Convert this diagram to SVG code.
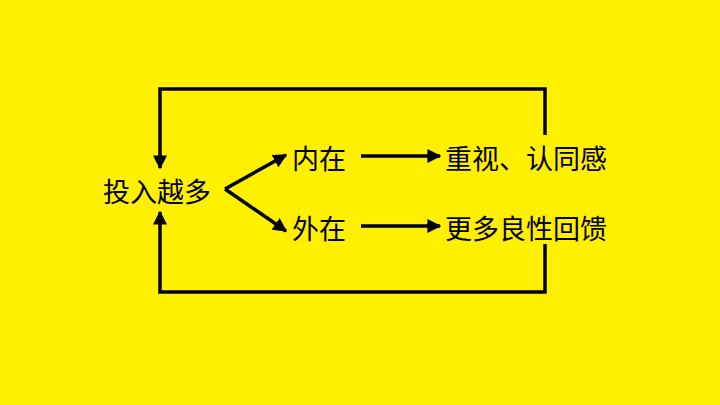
<svg xmlns="http://www.w3.org/2000/svg" width="720" height="405" viewBox="0 0 720 405">
<defs>
<marker id="ah" viewBox="0 0 10 10" refX="9" refY="5" markerWidth="4" markerHeight="4" orient="auto" markerUnits="strokeWidth"><path d="M0,0 L10,5 L0,10 z" fill="#000"/></marker>
<style>
text{font-family:"Noto Sans CJK SC","Noto Sans",sans-serif;font-size:27px;fill:#000;dominant-baseline:central}
.c{fill:none;stroke:#000;stroke-width:3.5}
</style>
</defs>
<rect width="720" height="405" fill="#FFF000"/>
<g id="n1"><text x="103" y="190">投入越多</text></g>
<g id="n2"><text x="292" y="157">内在</text></g>
<g id="n3"><text x="292" y="227">外在</text></g>
<g id="n4"><text x="445" y="157">重视、认同感</text></g>
<g id="n5"><text x="445" y="227">更多良性回馈</text></g>
<g id="connectors">
<path class="c" d="M225,189 L286,155" marker-end="url(#ah)"/>
<path class="c" d="M225,189 L286,231" marker-end="url(#ah)"/>
<path class="c" d="M361,156 L440,156" marker-end="url(#ah)"/>
<path class="c" d="M361,226 L440,226" marker-end="url(#ah)"/>
<path class="c" d="M545,135 V89 H160 V168" marker-end="url(#ah)"/>
<path class="c" d="M545,244 V292 H160 V212" marker-end="url(#ah)"/>
</g>
</svg>
